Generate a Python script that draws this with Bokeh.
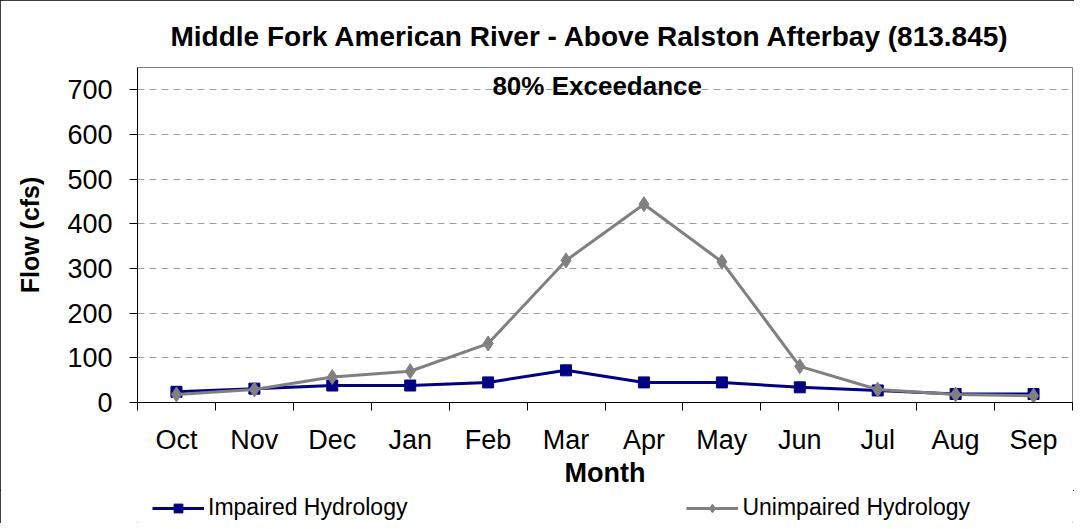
from bokeh.plotting import figure
from bokeh.layouts import column
from bokeh.models import FixedTicker, Range1d, Legend, LegendItem, Label, ColumnDataSource
from bokeh.embed import file_html
from bokeh.resources import INLINE

months = ["Oct", "Nov", "Dec", "Jan", "Feb", "Mar", "Apr", "May", "Jun", "Jul", "Aug", "Sep"]
impaired = [24, 31, 38, 38, 45, 72, 45, 45, 34, 27, 19, 19]
unimpaired = [18, 29, 57, 70, 132, 318, 444, 315, 81, 29, 18, 15]
y_ticks = [0, 100, 200, 300, 400, 500, 600, 700]
series_names = ["Impaired Hydrology", "Unimpaired Hydrology"]

xpos = [i + 0.5 for i in range(len(months))]
src = ColumnDataSource(dict(x=xpos, imp=impaired, unimp=unimpaired))

FONT = "Liberation Sans"
blue = "#000080"
gray = "#808080"

p = figure(width=1074, height=480, output_backend="svg", toolbar_location=None,
           x_range=Range1d(0, 12), y_range=Range1d(0, 750),
           frame_width=935, frame_height=335,
           min_border_left=137, min_border_right=2, min_border_top=67, min_border_bottom=78,
           title="Middle Fork American River - Above Ralston Afterbay (813.845)")

p.title.text_font = FONT
p.title.text_font_size = "28px"
p.title.text_font_style = "bold"
p.title.text_color = "black"
p.title.align = "left"
p.title.offset = 33
p.title.standoff = 31

p.outline_line_color = "#808080"
p.outline_line_width = 1
p.background_fill_color = "white"
p.border_fill_color = "white"

p.xgrid.grid_line_color = None
p.ygrid.grid_line_color = "#a0a0a0"
p.ygrid.grid_line_dash = "7 5"
p.ygrid.grid_line_width = 1

# x axis
xa = p.xaxis[0]
xa.ticker = FixedTicker(ticks=xpos, minor_ticks=list(range(len(months) + 1)))
xa.major_label_overrides = {x: m for x, m in zip(xpos, months)}
xa.major_tick_line_color = None
xa.major_tick_out = 0
xa.major_tick_in = 0
xa.minor_tick_line_color = "black"
xa.minor_tick_out = 8
xa.minor_tick_in = 0
xa.axis_line_color = "black"
xa.major_label_text_font = FONT
xa.major_label_text_font_size = "27px"
xa.major_label_text_color = "black"
xa.major_label_standoff = 14
xa.axis_label = "Month"
xa.axis_label_text_font = FONT
xa.axis_label_text_font_size = "27px"
xa.axis_label_text_font_style = "bold"
xa.axis_label_text_color = "black"
xa.axis_label_standoff = 0

# y axis
ya = p.yaxis[0]
ya.ticker = FixedTicker(ticks=y_ticks, minor_ticks=[])
ya.major_tick_line_color = "black"
ya.major_tick_out = 8
ya.major_tick_in = 0
ya.axis_line_color = "black"
ya.major_label_text_font = FONT
ya.major_label_text_font_size = "27px"
ya.major_label_text_color = "black"
ya.major_label_standoff = 17
ya.axis_label = "Flow (cfs)"
ya.axis_label_text_font = FONT
ya.axis_label_text_font_size = "25px"
ya.axis_label_text_font_style = "bold"
ya.axis_label_text_color = "black"
ya.axis_label_standoff = 20

p.line("x", "imp", source=src, line_color=blue, line_width=3)
p.scatter("x", "imp", source=src, marker="square", size=11, fill_color=blue, line_color=blue)
p.line("x", "unimp", source=src, line_color=gray, line_width=3)
p.scatter("x", "unimp", source=src, marker="diamond", size=15, fill_color=gray, line_color=gray)

p.add_layout(Label(x=5.9, y=709, text="80% Exceedance", text_font=FONT, text_font_size="26px",
                   text_font_style="bold", text_color="black",
                   text_align="center", text_baseline="middle"))

# legend strip below the chart (its ranges exclude the data, so only the legend shows)
lg = figure(width=1074, height=33, output_backend="svg", toolbar_location=None,
            x_range=Range1d(1000, 1001), y_range=Range1d(-1001, -1000),
            x_axis_location=None, y_axis_location=None, min_border=0)
lg.grid.visible = False
lg.outline_line_color = None
lg.background_fill_color = "white"
lg.border_fill_color = "white"
g1 = lg.line("x", "imp", source=src, line_color=blue, line_width=3)
s1 = lg.scatter("x", "imp", source=src, marker="square", size=11, fill_color=blue, line_color=blue)
g2 = lg.line("x", "unimp", source=src, line_color=gray, line_width=3)
s2 = lg.scatter("x", "unimp", source=src, marker="diamond", size=15, fill_color=gray, line_color=gray)
legend = Legend(items=[LegendItem(label=series_names[0], renderers=[g1, s1]),
                       LegendItem(label=series_names[1], renderers=[g2, s2])],
                orientation="horizontal", location=(15, 2), spacing=279,
                glyph_width=52, glyph_height=22, label_standoff=4, label_height=22,
                label_text_font=FONT, label_text_font_size="23px", label_text_color="black",
                padding=0, margin=0, border_line_color=None, background_fill_alpha=0)
lg.add_layout(legend, "center")

layout = column(p, lg, spacing=0)
layout.styles = {"outline": "1px solid black", "outline-offset": "-1px"}

open("out.html", "w").write(file_html(layout, INLINE))
